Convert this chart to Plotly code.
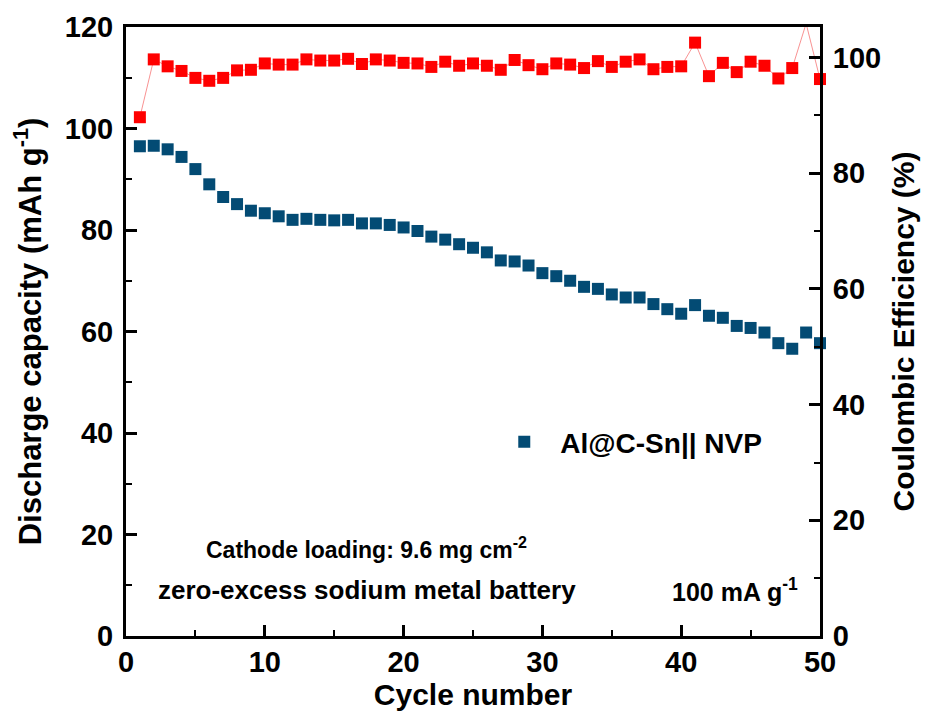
import plotly.graph_objects as go

# Cycling data for the Al@C-Sn || NVP zero-excess cell
cycles = list(range(1, 51))

discharge_capacity = [
    96.5, 96.6, 95.9, 94.4, 92.0, 89.0, 86.5, 85.1, 83.8, 83.3,
    82.7, 82.0, 82.2, 82.0, 81.9, 82.0, 81.3, 81.3, 81.0, 80.5,
    79.8, 78.7, 78.1, 77.2, 76.5, 75.6, 74.0, 73.8, 73.0, 71.5,
    70.9, 70.0, 68.8, 68.4, 67.3, 66.7, 66.7, 65.4, 64.4, 63.5,
    65.2, 63.1, 62.7, 61.1, 60.7, 59.8, 57.7, 56.6, 59.8, 57.7,
]

coulombic_efficiency = [
    89.7, 99.7, 98.5, 97.7, 96.5, 96.0, 96.5, 97.8, 97.9, 99.0,
    98.8, 98.8, 99.7, 99.5, 99.5, 99.8, 98.9, 99.7, 99.5, 99.1,
    99.0, 98.4, 99.3, 98.6, 99.0, 98.6, 97.9, 99.6, 98.7, 98.0,
    99.0, 98.8, 98.2, 99.4, 98.4, 99.3, 99.7, 98.0, 98.4, 98.5,
    102.6, 96.8, 99.1, 97.5, 99.3, 98.6, 96.4, 98.2, 105.9, 96.3,
]

x_ticks = [0, 10, 20, 30, 40, 50]
left_ticks = [0, 20, 40, 60, 80, 100, 120]
right_ticks = [0, 20, 40, 60, 80, 100]

FONT = "Liberation Sans, Arial, sans-serif"
BLUE = "#034b74"
RED = "#ff0000"

fig = go.Figure()

fig.add_trace(go.Scatter(
    x=cycles, y=discharge_capacity, mode="markers",
    name="Al@C-Sn|| NVP",
    marker=dict(symbol="square", size=12, color=BLUE),
    cliponaxis=False,
))

fig.add_trace(go.Scatter(
    x=cycles, y=coulombic_efficiency, mode="lines+markers",
    name="CE", showlegend=False, yaxis="y2",
    line=dict(color="rgba(245,110,110,0.75)", width=1),
    marker=dict(symbol="square", size=12, color=RED),
    cliponaxis=False,
))

axis_common = dict(
    showgrid=False, zeroline=False, showline=True, linecolor="black",
    linewidth=3, ticks="inside", ticklen=11, tickwidth=3, tickcolor="black",
    automargin=False,
    tickfont=dict(family=FONT, size=29, color="black", weight="bold"),
)

fig.update_layout(
    width=927, height=720,
    margin=dict(l=126, r=107, t=27, b=84, autoexpand=False),
    paper_bgcolor="white", plot_bgcolor="white",
    font=dict(family=FONT, color="black"),
    xaxis=dict(
        **axis_common, range=[0, 50], tickvals=x_ticks, mirror=True,
        minor=dict(ticks="inside", ticklen=6, tickwidth=2, dtick=5, tick0=0,
                   tickcolor="black"),
        ticklabelstandoff=-2,
        title=dict(text="<b>Cycle number</b>", standoff=6,
                   font=dict(family=FONT, size=30, color="black")),
    ),
    yaxis=dict(
        **axis_common, range=[0, 120], tickvals=left_ticks,
        minor=dict(ticks="inside", ticklen=6, tickwidth=2, dtick=10, tick0=0,
                   tickcolor="black"),
        ticklabelstandoff=4,
        title=dict(text="<b>Discharge capacity (mAh g<sup>-1</sup>)</b>",
                   standoff=14,
                   font=dict(family=FONT, size=31, color="black")),
    ),
    yaxis2=dict(
        **axis_common, range=[0, 105.3], tickvals=right_ticks,
        overlaying="y", side="right",
        minor=dict(ticks="inside", ticklen=6, tickwidth=2, dtick=10, tick0=0,
                   tickcolor="black"),
        ticklabelstandoff=4,
        title=dict(text="<b>Coulombic Efficiency (%)</b>", standoff=13,
                   font=dict(family=FONT, size=30, color="black")),
    ),
    legend=dict(
        x=0.522, y=0.3186, xanchor="left", yanchor="middle",
        bgcolor="rgba(0,0,0,0)", itemwidth=62,
        font=dict(family=FONT, size=28, color="black", weight="bold"),
    ),
    annotations=[
        dict(text="<b>Cathode loading: 9.6 mg cm<sup>-2</sup></b>",
             xref="paper", yref="paper", x=0.112, y=0.1445,
             xanchor="left", yanchor="middle", showarrow=False,
             font=dict(family=FONT, size=23, color="black")),
        dict(text="<b>zero-excess sodium metal battery</b>",
             xref="paper", yref="paper", x=0.043, y=0.0755,
             xanchor="left", yanchor="middle", showarrow=False,
             font=dict(family=FONT, size=26, color="black")),
        dict(text="<b>100 mA g<sup>-1</sup></b>",
             xref="paper", yref="paper", x=0.971, y=0.0755,
             xanchor="right", yanchor="middle", showarrow=False,
             font=dict(family=FONT, size=25, color="black")),
    ],
)

fig.write_html("out.html")
